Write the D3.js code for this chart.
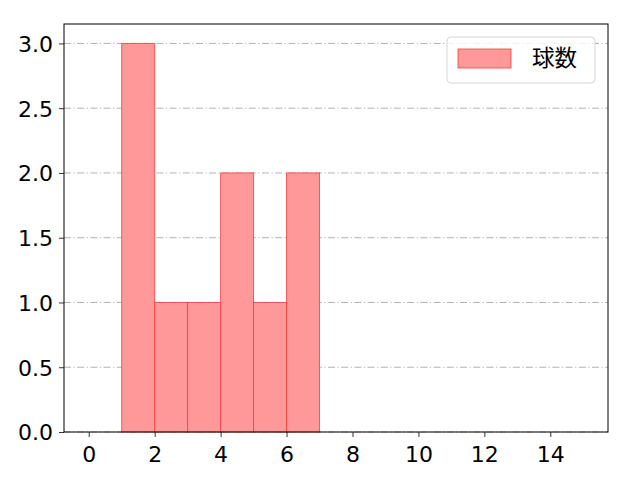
<!DOCTYPE html>
<html>
<head>
<meta charset="utf-8">
<script src="https://d3js.org/d3.v7.min.js"></script>
<style>
body { margin: 0; background: white; }
text { font-family: "DejaVu Sans", sans-serif; }
</style>
</head>
<body>
<script>
// histogram bins (left edges) and counts
var binStarts = [0, 1, 2, 3, 4, 5, 6, 7, 8, 9, 10, 11, 12, 13, 14];
var counts    = [0, 3, 1, 1, 2, 1, 2, 0, 0, 0, 0, 0, 0, 0, 0];
var xTicks = [0, 2, 4, 6, 8, 10, 12, 14];
var yTicks = [0, 0.5, 1.0, 1.5, 2.0, 2.5, 3.0];
var seriesName = "球数";

var width = 640, height = 480;
var plotL = 64, plotR = 608, plotT = 24, plotB = 432;

var svg = d3.select("body").append("svg")
  .attr("width", width).attr("height", height);

var x = d3.scaleLinear().domain([-0.75, 15.75]).range([plotL, plotR]);
var y = d3.scaleLinear().domain([0, 3.15]).range([plotB, plotT]);

// grid
svg.append("g").selectAll("line")
  .data(yTicks)
  .enter().append("line")
  .attr("x1", plotL).attr("x2", plotR)
  .attr("y1", function(d) { return y(d); })
  .attr("y2", function(d) { return y(d); })
  .attr("stroke", "#aaaaaa")
  .attr("stroke-width", 0.9)
  .attr("stroke-dasharray", "7,2.5,1.2,2.5");

// bars
svg.append("g").selectAll("rect")
  .data(binStarts.filter(function(d, i) { return counts[i] > 0; }))
  .enter().append("rect")
  .attr("x", function(d) { return x(d); })
  .attr("width", function(d) { return x(d + 1) - x(d); })
  .attr("y", function(d) { return y(counts[binStarts.indexOf(d)]); })
  .attr("height", function(d) { return plotB - y(counts[binStarts.indexOf(d)]); })
  .attr("fill", "#ff9999")
  .attr("stroke", "#f03c3c")
  .attr("stroke-opacity", 0.8)
  .attr("stroke-width", 1);

// axes
var xAxis = svg.append("g")
  .attr("transform", "translate(0," + plotB + ")")
  .call(d3.axisBottom(x).tickValues(xTicks).tickFormat(d3.format("d")).tickSize(5).tickPadding(4));
var yAxis = svg.append("g")
  .attr("transform", "translate(" + plotL + ",0)")
  .call(d3.axisLeft(y).tickValues(yTicks).tickFormat(d3.format(".1f")).tickSize(5).tickPadding(6));
[xAxis, yAxis].forEach(function(a) {
  a.select(".domain").remove();
  a.selectAll("text").attr("font-size", 22).attr("fill", "#000")
    .style("font-family", '"DejaVu Sans", sans-serif');
  a.selectAll("line").attr("stroke", "#000").attr("stroke-width", 0.8);
});
yAxis.selectAll("text").attr("dy", "0.36em");
xAxis.selectAll("text").attr("y", 29.5).attr("dy", 0);

// frame
svg.append("rect")
  .attr("x", plotL).attr("y", plotT)
  .attr("width", plotR - plotL).attr("height", plotB - plotT)
  .attr("fill", "none").attr("stroke", "#000").attr("stroke-width", 1);

// legend
var lg = svg.append("g");
lg.append("rect")
  .attr("x", 447).attr("y", 37).attr("width", 148).attr("height", 46)
  .attr("rx", 4).attr("fill", "white").attr("fill-opacity", 0.8)
  .attr("stroke", "#d6d6d6");
lg.append("rect")
  .attr("x", 458).attr("y", 49).attr("width", 53).attr("height", 19)
  .attr("fill", "#ff9999").attr("stroke", "#f03c3c").attr("stroke-opacity", 0.8);
lg.append("text")
  .attr("x", 532).attr("y", 58).attr("dy", "0.35em")
  .attr("font-size", 22.5).attr("fill", "#000")
  .style("font-family", '"Noto Sans CJK JP", sans-serif')
  .text(seriesName);
</script>
</body>
</html>
